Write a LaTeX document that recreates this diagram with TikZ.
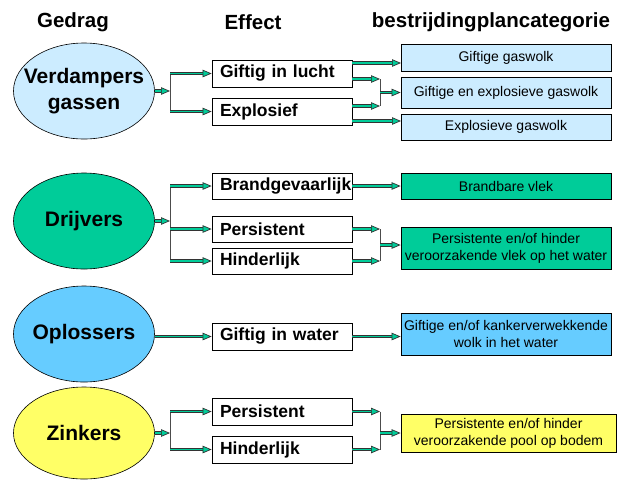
\documentclass[tikz,border=0pt]{standalone}
\usepackage{fontspec}
\setmainfont{Liberation Sans}
\usetikzlibrary{shapes.geometric, arrows.meta, calc}

\definecolor{lichtblauw}{RGB}{204,236,255}
\definecolor{groen}{RGB}{0,204,153}
\definecolor{blauw}{RGB}{102,204,255}
\definecolor{geel}{RGB}{255,255,102}

\begin{document}
\begin{tikzpicture}[x=1pt, y=-1pt,
  kop/.style={font=\fontsize{20.5}{24}\selectfont\bfseries},
  gedrag/.style={ellipse, draw, line width=0.6pt, minimum width=141pt, minimum height=96pt, inner sep=0pt},
  naam/.style={align=center, font=\fontsize{21}{26}\selectfont\bfseries},
  effect/.style={draw, line width=0.8pt, text width=124pt, inner xsep=8pt, inner ysep=0pt, minimum height=27pt, align=left, font=\fontsize{17.5}{20}\selectfont\bfseries},
  categorie/.style={draw, line width=0.8pt, minimum width=210pt, inner sep=1pt, align=center, font=\fontsize{14}{17}\selectfont},
  pijl/.style={draw=groen, line width=1.8pt,
    -{Triangle[length=9pt, width=7.5pt, color=black!80, fill=groen, line width=0.7pt]},
    preaction={draw=black!80, line width=3.8pt, arrows=-, shorten >=8.5pt}},
  haak/.style={draw=black!70, line width=0.8pt}]
\useasboundingbox (0,0) rectangle (617,480);

% kopjes
\node (h1)[kop] at (73,22) {Gedrag};
\node (h2)[kop] at (253,22) {Effect};
\node (h3)[kop] at (491,22) {bestrijdingplancategorie};

% verdampers
\node (verd)[gedrag, fill=lichtblauw, label={[naam]center:Verdampers\\gassen}] at (84,91) {};
\node (lucht)[effect] at (282,73.5) {Giftig in lucht};
\node (explosief)[effect] at (282,111.5) {Explosief};
\node (gaswolk)[categorie, fill=lichtblauw, minimum height=27pt] at (506,57.5) {Giftige gaswolk};
\node (gasexpl)[categorie, fill=lichtblauw, minimum height=31pt] at (506,92.5) {Giftige en explosieve gaswolk};
\node (explwolk)[categorie, fill=lichtblauw, minimum height=26pt] at (506,127) {Explosieve gaswolk};

\coordinate (vb) at (170,91);
\coordinate (vb1) at (170,73.5);
\coordinate (vb2) at (170,111.5);
\coordinate (vr) at (380,92.5);
\coordinate (vr1) at (380,79);
\coordinate (vr2) at (380,106);
\coordinate (g1) at (401,63);
\coordinate (g3) at (401,121);

\draw[haak] (vb1) -- (vb2);
\draw[pijl] (verd) -- (vb);
\draw[pijl] (vb1) -- (lucht);
\draw[pijl] (vb2) -- (explosief);
\draw[pijl] (lucht.east |- g1) -- (g1);
\draw[pijl] (lucht.east |- vr1) -- (vr1);
\draw[pijl] (explosief.east |- vr2) -- (vr2);
\draw[pijl] (explosief.east |- g3) -- (g3);
\draw[haak] (vr1) -- (vr2);
\draw[pijl] (vr) -- (gasexpl);

% drijvers
\node (drijv)[gedrag, fill=groen, label={[naam]center:Drijvers}] at (84,221) {};
\node (brand)[effect, minimum height=26pt] at (282,186) {Brandgevaarlijk};
\node (pers)[effect, minimum height=26pt] at (282,229) {Persistent};
\node (hind)[effect, minimum height=26pt] at (282,261) {Hinderlijk};
\node (vlek)[categorie, fill=groen, minimum height=26pt] at (506,186) {Brandbare vlek};
\node (vlekwater)[categorie, fill=groen, minimum height=42pt] at (506,248) {Persistente en/of hinder\\veroorzakende vlek op het water};

\coordinate (db) at (170,221);
\coordinate (db1) at (170,186);
\coordinate (db2) at (170,229);
\coordinate (db3) at (170,261);
\coordinate (dr) at (380,245);
\coordinate (dr1) at (380,229);
\coordinate (dr2) at (380,261);

\draw[haak] (db1) -- (db3);
\draw[pijl] (drijv) -- (db);
\draw[pijl] (db1) -- (brand);
\draw[pijl] (db2) -- (pers);
\draw[pijl] (db3) -- (hind);
\draw[pijl] (brand) -- (vlek);
\draw[pijl] (pers) -- (dr1);
\draw[pijl] (hind) -- (dr2);
\draw[haak] (dr1) -- (dr2);
\draw[pijl] (dr) -- (dr -| vlekwater.west);

% oplossers
\node (oplos)[gedrag, fill=blauw, label={[naam]center:Oplossers}] at (84,334) {};
\node (water)[effect] at (282,336.5) {Giftig in water};
\node (kanker)[categorie, fill=blauw, minimum height=42pt] at (506,334) {Giftige en/of kankerverwekkende\\wolk in het water};

\draw[pijl] (oplos.east |- water) -- (water);
\draw[pijl] (water) -- (water -| kanker.west);

% zinkers
\node (zink)[gedrag, fill=geel, minimum height=92pt, label={[naam]center:Zinkers}] at (84,433) {};
\node (pers2)[effect] at (282,411.5) {Persistent};
\node (hind2)[effect] at (282,449.5) {Hinderlijk};
\node (pool)[categorie, fill=geel, minimum width=215pt, minimum height=38pt] at (508.5,433) {Persistente en/of hinder\\veroorzakende pool op bodem};

\coordinate (zb) at (170,433);
\coordinate (zb1) at (170,411.5);
\coordinate (zb2) at (170,449.5);
\coordinate (zr) at (380,433);
\coordinate (zr1) at (380,411.5);
\coordinate (zr2) at (380,449.5);

\draw[haak] (zb1) -- (zb2);
\draw[pijl] (zink) -- (zb);
\draw[pijl] (zb1) -- (pers2);
\draw[pijl] (zb2) -- (hind2);
\draw[pijl] (pers2) -- (zr1);
\draw[pijl] (hind2) -- (zr2);
\draw[haak] (zr1) -- (zr2);
\draw[pijl] (zr) -- (pool);
\end{tikzpicture}
\end{document}
